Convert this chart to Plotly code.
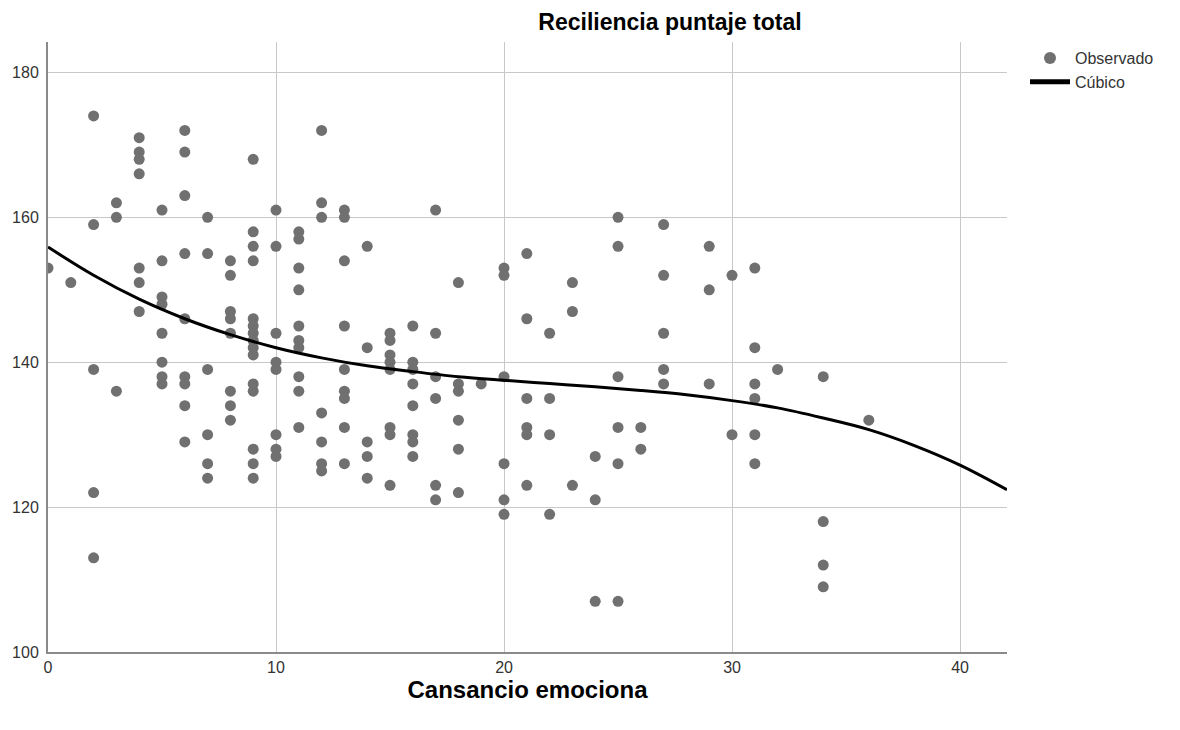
import plotly.graph_objects as go

obs_x_values = [0, 1, 2, 3, 4, 5, 6, 7, 8, 9, 10, 11, 12, 13, 14, 15, 16, 17, 18,
                19, 20, 21, 22, 23, 24, 25, 26, 27, 29, 30, 31, 32, 34, 36]
obs_y_groups = [
    [153],
    [151],
    [174, 159, 139, 122, 113],
    [162, 160, 136],
    [171, 169, 168, 166, 153, 151, 147],
    [161, 154, 149, 148, 144, 140, 138, 137],
    [172, 169, 163, 155, 146, 138, 137, 134, 129],
    [160, 155, 139, 130, 126, 124],
    [154, 152, 147, 146, 144, 136, 134, 132],
    [168, 158, 156, 154, 146, 145, 144, 143, 142, 141, 137, 136, 128, 126, 124],
    [161, 156, 144, 140, 139, 130, 128, 127],
    [158, 157, 153, 150, 145, 143, 142, 138, 136, 131],
    [172, 162, 160, 133, 129, 126, 125],
    [161, 160, 154, 145, 139, 136, 135, 131, 126],
    [156, 142, 129, 127, 124],
    [144, 143, 141, 140, 139, 131, 130, 123],
    [145, 140, 139, 137, 134, 130, 129, 127],
    [161, 144, 138, 135, 123, 121],
    [151, 137, 136, 132, 128, 122],
    [137],
    [153, 152, 138, 126, 121, 119],
    [155, 146, 135, 131, 130, 123],
    [144, 135, 130, 119],
    [151, 147, 123],
    [127, 121, 107],
    [160, 156, 138, 131, 126, 107],
    [131, 128],
    [159, 152, 144, 139, 137],
    [156, 150, 137],
    [152, 130],
    [153, 142, 137, 135, 130, 126],
    [139],
    [138, 118, 112, 109],
    [132],
]

# Cubic fit curve, read at several x positions
curve_x = [0, 2, 4, 6, 8, 10, 12, 14, 16, 18, 20, 22, 24, 26, 28, 30, 32, 34, 36, 38, 40, 42.06]
curve_y = [155.9, 152.0, 148.7, 146.0, 143.8, 142.0, 140.6, 139.5, 138.7, 138.0, 137.5,
           137.05, 136.6, 136.1, 135.5, 134.7, 133.7, 132.3, 130.7, 128.5, 125.8, 122.4]

x_ticks = [0, 10, 20, 30, 40]
y_ticks = [100, 120, 140, 160, 180]

obs_x = []
obs_y = []
for xv, ys in zip(obs_x_values, obs_y_groups):
    for yv in ys:
        obs_x.append(xv)
        obs_y.append(yv)

FONT = "Liberation Sans, Arial, sans-serif"

fig = go.Figure()
fig.add_trace(go.Scatter(
    x=obs_x, y=obs_y, mode="markers", name="Observado",
    marker=dict(color="#707070", size=11, line=dict(width=0)),
))
fig.add_trace(go.Scatter(
    x=curve_x, y=curve_y, mode="lines", name="Cúbico",
    line=dict(color="#000000", width=3, shape="spline"),
))

fig.update_layout(
    width=1180, height=730,
    margin=dict(l=48, r=173, t=42, b=78),
    paper_bgcolor="white", plot_bgcolor="white",
    font=dict(family=FONT, size=16, color="#333333"),
    title=dict(text="<b>Reciliencia puntaje total</b>", x=670 / 1180, xanchor="center",
               y=1 - 22 / 730, yanchor="middle",
               font=dict(family=FONT, size=23, color="#000000")),
    legend=dict(x=(1025 - 48) / 959, xanchor="left", y=1 + 1 / 610, yanchor="top",
                font=dict(family=FONT, size=16, color="#333333"),
                bgcolor="rgba(0,0,0,0)", tracegroupgap=0, itemsizing="constant",
                itemwidth=40),
    showlegend=True,
)
fig.update_xaxes(
    range=[0, 42.06], tickvals=x_ticks, ticktext=[str(v) for v in x_ticks],
    showgrid=True, gridcolor="#c8c8c8", gridwidth=1,
    showline=True, linecolor="#8a8a8a", linewidth=2,
    zeroline=False, ticks="", tickfont=dict(family=FONT, size=16, color="#333333"),
    title=dict(text="<b>Cansancio emociona</b>", standoff=6,
               font=dict(family=FONT, size=24, color="#000000")),
)
fig.update_yaxes(
    range=[100, 184.2], tickvals=y_ticks, ticktext=[str(v) for v in y_ticks],
    showgrid=True, gridcolor="#c8c8c8", gridwidth=1,
    showline=True, linecolor="#8a8a8a", linewidth=2,
    zeroline=False, ticks="", tickfont=dict(family=FONT, size=16, color="#333333"),
    ticklabelstandoff=4,
)

fig.write_html("out.html")
